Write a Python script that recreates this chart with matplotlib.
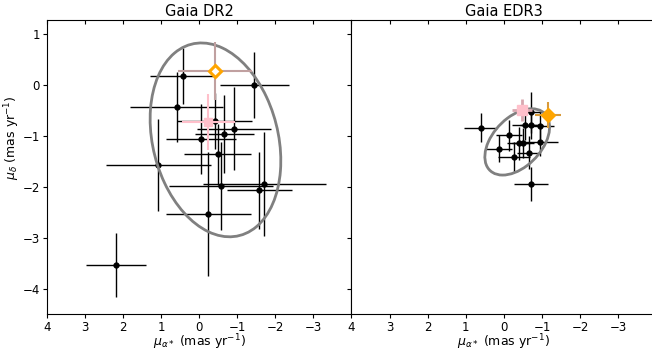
import numpy as np
import matplotlib.pyplot as plt
from matplotlib.patches import Ellipse

# Gaia DR2 proper motions of the member stars
dr2_pmra = [0.41, -1.45, 0.585, -0.41, -0.92, -0.66, -0.05, -0.49, 1.07, -0.57, -1.71, -1.58, -0.24, 2.19]
dr2_pmdec = [0.17, 0.0, -0.44, -0.71, -0.86, -0.96, -1.06, -1.36, -1.58, -1.99, -1.95, -2.07, -2.53, -3.53]
dr2_pmra_err = [0.88, 0.91, 1.22, 0.98, 0.98, 0.77, 0.93, 0.88, 1.38, 1.36, 1.62, 0.86, 1.12, 0.79]
dr2_pmdec_err = [0.55, 0.65, 0.69, 0.55, 0.81, 0.76, 0.68, 0.60, 0.90, 0.86, 1.02, 0.76, 1.22, 0.63]

# Gaia EDR3 proper motions of the same stars
edr3_pmra = [0.61, -0.72, -0.55, -0.72, -0.96, -0.13, -0.39, -0.50, -0.96, 0.13, -0.65, -0.26, -0.71]
edr3_pmdec = [-0.84, -0.54, -0.78, -0.78, -0.80, -0.99, -1.15, -1.14, -1.12, -1.25, -1.33, -1.41, -1.94]
edr3_pmra_err = [0.43, 0.35, 0.35, 0.30, 0.35, 0.35, 0.30, 0.30, 0.47, 0.35, 0.30, 0.42, 0.45]
edr3_pmdec_err = [0.29, 0.40, 0.30, 0.28, 0.27, 0.30, 0.33, 0.30, 0.28, 0.27, 0.32, 0.29, 0.33]

# the two highlighted stars: (pmra, pmdec, pmra_err, pmdec_err)
dr2_pink = (-0.24, -0.73, 0.70, 0.55)
dr2_orange = (-0.42, 0.27, 0.97, 0.57)
edr3_pink = (-0.48, -0.49, 0.26, 0.22)
edr3_orange = (-1.16, -0.595, 0.34, 0.25)

# 1-sigma ellipses: centre x, centre y, sigma x, sigma y, correlation
dr2_ell = (-0.43, -1.08, 1.715, 1.90, 0.215)
edr3_ell = (-0.35, -1.12, 0.85, 0.65, -0.45)

xticks = [4, 3, 2, 1, 0, -1, -2, -3]
yticks = [1, 0, -1, -2, -3, -4]


def cov_ellipse(ax, cx, cy, sx, sy, rho):
    cov = np.array([[sx**2, rho*sx*sy], [rho*sx*sy, sy**2]])
    vals, vecs = np.linalg.eigh(cov)
    angle = np.degrees(np.arctan2(vecs[1, 1], vecs[0, 1]))
    e = Ellipse((cx, cy), 2*np.sqrt(vals[1]), 2*np.sqrt(vals[0]), angle=angle,
                fill=False, edgecolor='grey', lw=2, zorder=3)
    ax.add_patch(e)


fig = plt.figure(figsize=(6.52, 3.52), dpi=100)
ax1 = fig.add_axes([0.0716, 0.107, 0.4675, 0.8362])
ax2 = fig.add_axes([0.5391, 0.107, 0.4675, 0.8362], sharey=ax1)

# DR2 panel
ax1.errorbar(dr2_pmra, dr2_pmdec, xerr=dr2_pmra_err, yerr=dr2_pmdec_err,
             fmt='o', color='k', ms=3.5, lw=1, zorder=2)
cov_ellipse(ax1, *dr2_ell)
ax1.errorbar(dr2_pink[0], dr2_pink[1], xerr=dr2_pink[2], yerr=dr2_pink[3],
             fmt='s', color='pink', ecolor='pink', ms=6, lw=1.5, zorder=4)
ax1.errorbar(dr2_orange[0], dr2_orange[1], xerr=dr2_orange[2], yerr=dr2_orange[3],
             fmt='D', mfc='white', mec='orange', mew=2.2, ecolor='#c0a0a0',
             ms=6, lw=1.5, zorder=5)

# EDR3 panel
ax2.errorbar(edr3_pmra, edr3_pmdec, xerr=edr3_pmra_err, yerr=edr3_pmdec_err,
             fmt='o', color='k', ms=3.5, lw=1, zorder=2)
cov_ellipse(ax2, *edr3_ell)
ax2.errorbar(edr3_pink[0], edr3_pink[1], xerr=edr3_pink[2], yerr=edr3_pink[3],
             fmt='s', color='pink', ecolor='#d8a8b0', ms=6.5, lw=2, zorder=4)
ax2.errorbar(edr3_orange[0], edr3_orange[1], xerr=edr3_orange[2], yerr=edr3_orange[3],
             fmt='D', color='orange', ecolor='#d89a3a', ms=7, lw=1.5, zorder=5)

for ax in (ax1, ax2):
    ax.set_xlim(4, -4)
    ax.set_xticks(xticks)
    ax.set_xlabel(r'$\mu_{\alpha*}$ (mas yr$^{-1}$)', fontsize=9, labelpad=-1)
    ax.tick_params(axis='x', top=True, labelsize=8.5, length=3, pad=1.5)

ax1.set_ylim(-4.5, 1.27)
ax1.set_yticks(yticks)
ax1.set_ylabel(r'$\mu_{\delta}$ (mas yr$^{-1}$)', fontsize=9)
ax1.yaxis.set_label_coords(-0.082, 0.6)
ax1.tick_params(axis='y', right=True, labelsize=8.5, length=3, pad=2)
ax2.tick_params(axis='y', left=False, labelleft=False)
# ticks on the top and right sides point inwards
for ax in (ax1, ax2):
    for t in ax.xaxis.get_major_ticks():
        t.tick2line.set_marker(3)
for t in ax1.yaxis.get_major_ticks():
    t.tick2line.set_marker(0)

ax1.set_title('Gaia DR2', fontsize=10.5, pad=3)
ax2.set_title('Gaia EDR3', fontsize=10.5, pad=3)

plt.savefig('out.png', dpi=100)
